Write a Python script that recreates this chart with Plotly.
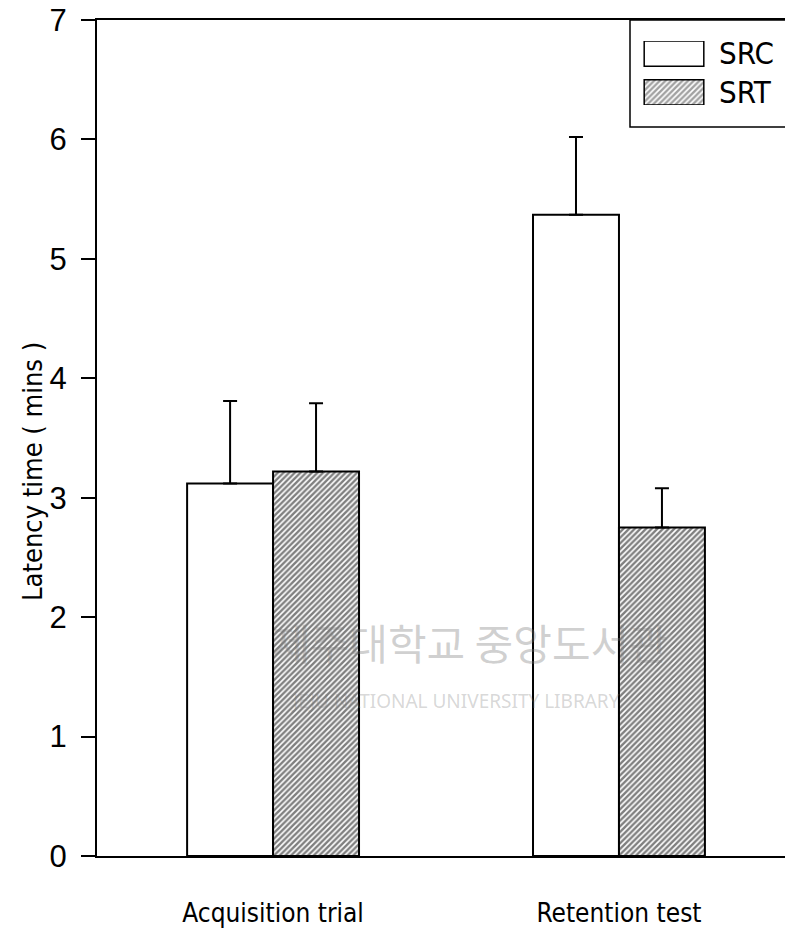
import plotly.graph_objects as go

# ---- data ----
categories = ["Acquisition trial", "Retention test"]
series_names = ["SRC", "SRT"]
src_values = [3.12, 5.37]
srt_values = [3.22, 2.75]
src_err_plus = [0.69, 0.65]
srt_err_plus = [0.57, 0.33]
y_ticks = [0, 1, 2, 3, 4, 5, 6, 7]

NARROW = "DejaVu Sans Condensed, Liberation Sans Narrow, sans-serif"
REG = "Liberation Sans, Arial, sans-serif"

W, H = 785, 931
ML, MR, MT, MB = 97, 0, 20, 75
pw = W - ML - MR
ph = H - MT - MB

def px_x(x):
    return (x - ML) / pw

def px_y(y):
    return (H - MB - y) / ph

fig = go.Figure()

HATCH = dict(fgcolor="black", bgcolor="white", size=4, solidity=0.6)

styles = [
    dict(color="white", line=dict(color="black", width=2)),
    dict(color="white", line=dict(color="black", width=2), pattern=dict(shape="/", **HATCH)),
]

for name, vals, err, st in zip(series_names, [src_values, srt_values],
                               [src_err_plus, srt_err_plus], styles):
    fig.add_trace(go.Bar(
        x=categories, y=vals, name=name, marker=st, showlegend=False,
        error_y=dict(type="data", symmetric=False, array=err,
                     arrayminus=[0] * len(err), color="black", thickness=2, width=7),
    ))

# legend swatches drawn as bars on an auxiliary axis pair
fig.add_trace(go.Bar(
    x=[1, 1], y=[1, 0], base=[0, 0], orientation="h", width=0.65,
    marker=dict(color=["white", "white"], line=dict(color="black", width=1.5),
                pattern=dict(shape=["", "/"], **HATCH)),
    xaxis="x2", yaxis="y2", showlegend=False, hoverinfo="skip",
))

fig.update_layout(
    width=W, height=H,
    margin=dict(l=ML, r=MR, t=MT, b=MB, pad=0),
    paper_bgcolor="white", plot_bgcolor="white",
    barmode="group", bargap=0.503, bargroupgap=0,
    showlegend=False,
    xaxis=dict(
        type="category", range=[-0.509, 1.48],
        showline=True, linecolor="black", linewidth=2, mirror=True,
        showgrid=False, zeroline=False, ticks="",
        tickfont=dict(family=NARROW, size=26, color="black"),
        ticklabelstandoff=33,
    ),
    yaxis=dict(
        range=[0, 7], tickvals=y_ticks,
        showline=True, linecolor="black", linewidth=2,
        showgrid=False, zeroline=False,
        ticks="outside", ticklen=14, tickwidth=2, tickcolor="black",
        tickfont=dict(family=REG, size=31, color="black"),
        ticklabelstandoff=8,
    ),
    xaxis2=dict(domain=[px_x(643), px_x(705)], anchor="y2", range=[-0.02, 1.02],
                visible=False, fixedrange=True),
    yaxis2=dict(domain=[px_y(105), px_y(41)], anchor="x2", range=[-0.325, 1.325],
                visible=False, fixedrange=True),
)

# legend box
fig.add_shape(type="rect", xref="paper", yref="paper",
              x0=px_x(630), x1=1.03, y0=px_y(127), y1=1.0,
              line=dict(color="black", width=1.5), fillcolor="rgba(0,0,0,0)", layer="below")
for name, yc in zip(series_names, [53, 92]):
    fig.add_annotation(x=px_x(717), y=px_y(yc), xref="paper", yref="paper",
                       text=name, showarrow=False, xanchor="left", yanchor="middle",
                       font=dict(family=NARROW, size=31, color="black"))

# y axis title
fig.add_annotation(x=px_x(32), y=px_y(472), xref="paper", yref="paper",
                   text="Latency time ( mins )", textangle=-90, showarrow=False,
                   xanchor="center", yanchor="middle",
                   font=dict(family=NARROW, size=27, color="black"))

# faint library watermark
fig.add_annotation(x=px_x(470), y=px_y(674), xref="paper", yref="paper",
                   text="제주대학교 중앙도서관", showarrow=False,
                   font=dict(family="Noto Sans CJK KR", size=42, color="rgba(120,120,120,0.35)"))
fig.add_annotation(x=px_x(455), y=px_y(716), xref="paper", yref="paper",
                   text="JEJU NATIONAL UNIVERSITY LIBRARY", showarrow=False,
                   font=dict(family="Noto Sans", size=19, color="rgba(120,120,120,0.3)"))

fig.write_html("out.html")
